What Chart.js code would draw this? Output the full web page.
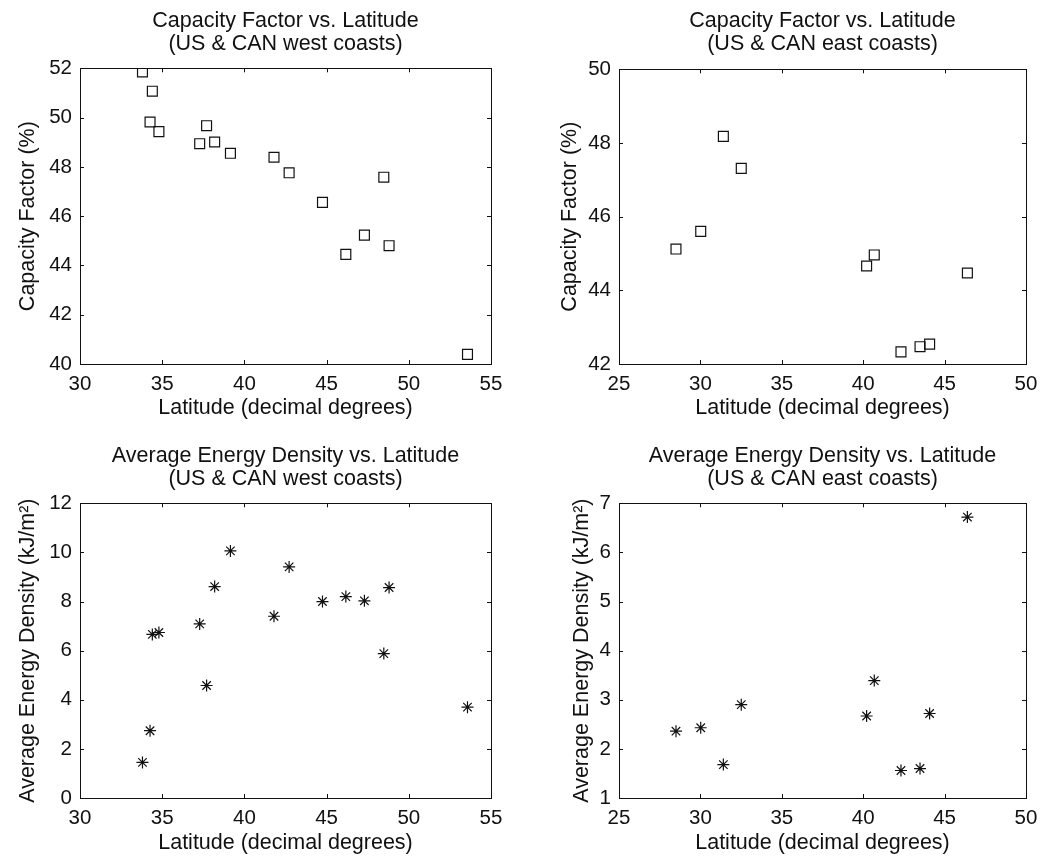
<!DOCTYPE html>
<html>
<head>
<meta charset="utf-8">
<script src="https://cdn.jsdelivr.net/npm/chart.js@4.4.1/dist/chart.umd.min.js"></script>
<style>
  html, body { margin: 0; padding: 0; background: #fff; }
  #wrap { position: relative; width: 1051px; height: 859px; }
  canvas { position: absolute; }
</style>
</head>
<body>
<div id="wrap">
  <canvas id="cfWest" width="525" height="430" style="left:0;top:0"></canvas>
  <canvas id="cfEast" width="526" height="430" style="left:525px;top:0"></canvas>
  <canvas id="edWest" width="525" height="429" style="left:0;top:430px"></canvas>
  <canvas id="edEast" width="526" height="429" style="left:525px;top:430px"></canvas>
</div>
<script>
// West coast stations
const westLat = [33.80, 34.26, 34.40, 34.80, 37.28, 37.70, 38.19, 39.15, 41.80, 42.72, 44.75, 46.17, 47.30, 48.48, 48.80, 53.57];
const westCF  = [51.85, 49.82, 51.07, 49.43, 48.94, 49.67, 49.01, 48.55, 48.39, 47.76, 46.56, 44.45, 45.23, 47.58, 44.80, 40.39];
const westED  = [1.45, 2.74, 6.66, 6.74, 7.09, 4.58, 8.61, 10.06, 7.40, 9.41, 8.00, 8.20, 8.03, 5.88, 8.57, 3.70];

// East coast stations
const eastLat = [28.50, 30.02, 31.41, 32.51, 40.21, 40.68, 42.32, 43.49, 44.08, 46.40];
const eastCF  = [45.12, 45.60, 48.18, 47.31, 44.66, 44.96, 42.33, 42.47, 42.54, 44.47];
const eastED  = [2.36, 2.43, 1.68, 2.90, 2.67, 3.39, 1.56, 1.60, 2.72, 6.72];

const FONT = "'Liberation Sans', Arial, sans-serif";
const INK = '#111';

// box around the plot area with inward ticks on all four sides
const boxTicks = {
  id: 'boxTicks',
  afterDatasetsDraw(chart) {
    const { ctx, chartArea: a, scales } = chart;
    const len = 4;
    ctx.save();
    ctx.strokeStyle = INK;
    ctx.lineWidth = 1;
    ctx.beginPath();
    scales.x.ticks.forEach(t => {
      const px = Math.round(scales.x.getPixelForValue(t.value)) + 0.5;
      ctx.moveTo(px, a.bottom); ctx.lineTo(px, a.bottom - len);
      ctx.moveTo(px, a.top); ctx.lineTo(px, a.top + len);
    });
    scales.y.ticks.forEach(t => {
      const py = Math.round(scales.y.getPixelForValue(t.value)) + 0.5;
      ctx.moveTo(a.left, py); ctx.lineTo(a.left + len, py);
      ctx.moveTo(a.right, py); ctx.lineTo(a.right - len, py);
    });
    ctx.stroke();
    ctx.strokeRect(Math.round(a.left) + 0.5, Math.round(a.top) + 0.5,
                   Math.round(a.right - a.left), Math.round(a.bottom - a.top));
    ctx.restore();
  }
};

function makePlot(id, cfg) {
  const pts = cfg.x.map((x, i) => ({ x: x, y: cfg.y[i] }));
  new Chart(document.getElementById(id), {
    type: 'scatter',
    data: {
      datasets: [{
        data: pts,
        pointStyle: cfg.marker,
        radius: cfg.marker === 'rect' ? 7 : 6,
        borderColor: INK,
        backgroundColor: 'rgba(0,0,0,0)',
        borderWidth: 1.2
      }]
    },
    options: {
      responsive: false,
      animation: false,
      events: [],
      layout: { padding: { left: 0, right: cfg.padRight, top: 0, bottom: 0 } },
      plugins: {
        legend: { display: false },
        tooltip: { enabled: false },
        title: {
          display: true,
          fullSize: false, // centre over the plot box, not the whole canvas
          text: cfg.title,
          color: INK,
          font: { family: FONT, size: 21.5, weight: 'normal', lineHeight: 1.1 },
          padding: { top: cfg.titleTop, bottom: cfg.titleBottom }
        }
      },
      scales: {
        x: {
          type: 'linear',
          min: cfg.xMin, max: cfg.xMax,
          grid: { display: false, drawTicks: false },
          border: { display: false },
          ticks: { stepSize: 5, autoSkip: false, maxRotation: 0, padding: 8, color: INK, font: { family: FONT, size: 20.5 } },
          title: {
            display: true, text: 'Latitude (decimal degrees)', color: INK,
            font: { family: FONT, size: 21.5, lineHeight: 1.2 }, padding: { top: 0, bottom: cfg.xTitleBottom }
          },
          afterFit: s => { s.height = cfg.xHeight; }
        },
        y: {
          type: 'linear',
          min: cfg.yMin, max: cfg.yMax,
          grid: { display: false, drawTicks: false },
          border: { display: false },
          ticks: { stepSize: cfg.yStep, autoSkip: false, padding: 8, color: INK, font: { family: FONT, size: 20.5 } },
          title: {
            display: true, text: cfg.yTitle, color: INK,
            font: { family: FONT, size: 21.5, lineHeight: 1.2 }, padding: { top: cfg.yTitleLeft, bottom: 0 }
          },
          afterFit: s => { s.width = cfg.yWidth; }
        }
      }
    },
    plugins: [boxTicks]
  });
}

makePlot('cfWest', {
  x: westLat, y: westCF, marker: 'rect',
  title: ['Capacity Factor vs. Latitude', '(US & CAN west coasts)'],
  yTitle: 'Capacity Factor (%)',
  xMin: 30, xMax: 55, yMin: 40, yMax: 52, yStep: 2,
  titleTop: 9, titleBottom: 12, padRight: 34,
  xHeight: 66, xTitleBottom: 9, yWidth: 80, yTitleLeft: 15
});

makePlot('cfEast', {
  x: eastLat, y: eastCF, marker: 'rect',
  title: ['Capacity Factor vs. Latitude', '(US & CAN east coasts)'],
  yTitle: 'Capacity Factor (%)',
  xMin: 25, xMax: 50, yMin: 42, yMax: 50, yStep: 2,
  titleTop: 9, titleBottom: 13, padRight: 25,
  xHeight: 66, xTitleBottom: 9, yWidth: 94, yTitleLeft: 32
});

makePlot('edWest', {
  x: westLat, y: westED, marker: 'star',
  title: ['Average Energy Density vs. Latitude', '(US & CAN west coasts)'],
  yTitle: 'Average Energy Density (kJ/m²)',
  xMin: 30, xMax: 55, yMin: 0, yMax: 12, yStep: 2,
  titleTop: 14, titleBottom: 12, padRight: 34,
  xHeight: 61, xTitleBottom: 3, yWidth: 80, yTitleLeft: 15
});

makePlot('edEast', {
  x: eastLat, y: eastED, marker: 'star',
  title: ['Average Energy Density vs. Latitude', '(US & CAN east coasts)'],
  yTitle: 'Average Energy Density (kJ/m²)',
  xMin: 25, xMax: 50, yMin: 1, yMax: 7, yStep: 1,
  titleTop: 14, titleBottom: 12, padRight: 25,
  xHeight: 61, xTitleBottom: 3, yWidth: 94, yTitleLeft: 44
});
</script>
</body>
</html>
